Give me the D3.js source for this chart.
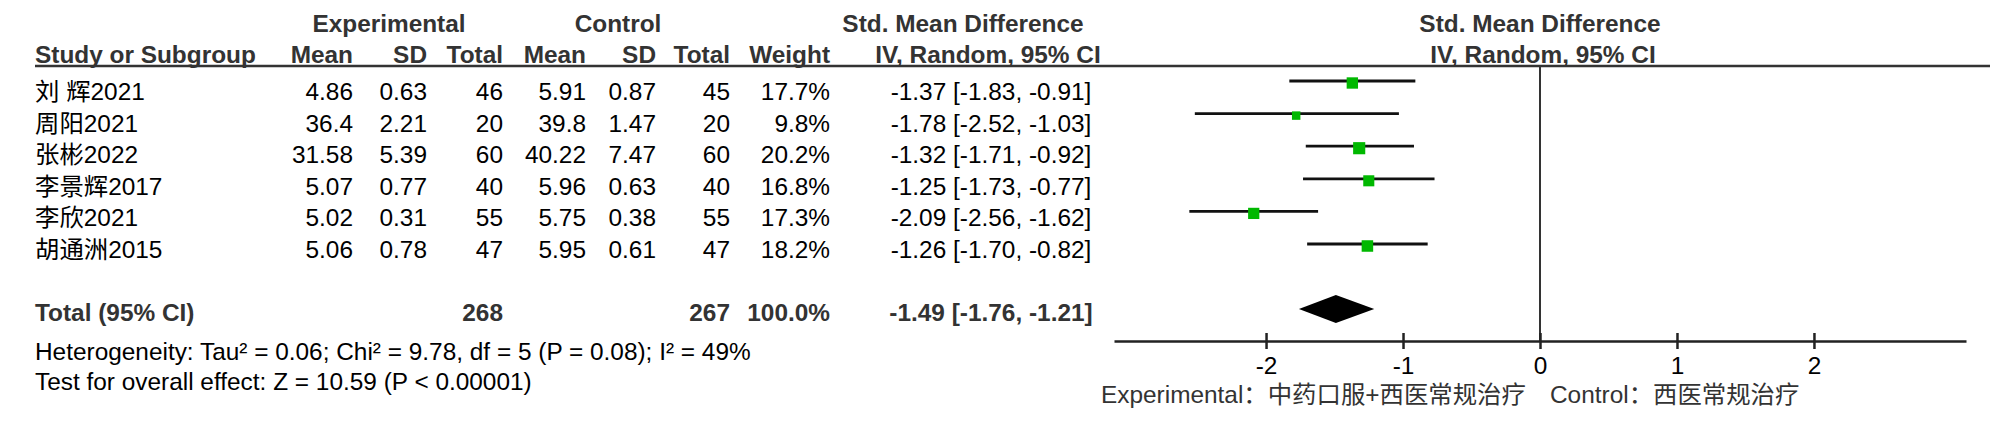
<!DOCTYPE html>
<html>
<head>
<meta charset="utf-8">
<script src="https://cdn.jsdelivr.net/npm/d3@7"></script>
<style>
  body { margin: 0; background: #fff; }
  text { font-family: "Liberation Sans", Arial, "Noto Sans CJK SC", sans-serif; font-size: 24.4px; }
  .hd { font-weight: bold; fill: #333; }
  .cell { fill: #000; }
</style>
</head>
<body>
<div id="chart"></div>
<script>
// study data
var studies = ["刘 辉2021", "周阳2021", "张彬2022", "李景辉2017", "李欣2021", "胡通洲2015"];
var expMean = [4.86, 36.4, 31.58, 5.07, 5.02, 5.06];
var expSD = [0.63, 2.21, 5.39, 0.77, 0.31, 0.78];
var expTotal = [46, 20, 60, 40, 55, 47];
var ctrlMean = [5.91, 39.8, 40.22, 5.96, 5.75, 5.95];
var ctrlSD = [0.87, 1.47, 7.47, 0.63, 0.38, 0.61];
var ctrlTotal = [45, 20, 60, 40, 55, 47];
var weight = [17.7, 9.8, 20.2, 16.8, 17.3, 18.2];
var smd = [-1.37, -1.78, -1.32, -1.25, -2.09, -1.26];
var ciLow = [-1.83, -2.52, -1.71, -1.73, -2.56, -1.70];
var ciHigh = [-0.91, -1.03, -0.92, -0.77, -1.62, -0.82];

// pooled result
var pooled = { est: -1.49, low: -1.76, high: -1.21, expN: 268, ctrlN: 267, weight: 100.0 };
var tickValues = [-2, -1, 0, 1, 2];

var svgWidth = 2000;
var svgHeight = 432;

var svg = d3.select("#chart")
  .append("svg")
  .attr("width", svgWidth)
  .attr("height", svgHeight);

var rows = d3.range(studies.length);

// text rows (baselines) and plot rows (line centres)
var yText = d3.scalePoint().domain(rows).range([100, 258]);
var yPlot = d3.scalePoint().domain(rows).range([81, 244]);

var x = d3.scaleLinear().domain([-3.11, 3.11]).range([1114, 1966]);

var headY1 = 32, headY2 = 63, lineY = 66;
var totalY = 321, axisY = 341, diamondY = 309;

function fmtCI(e, l, h) {
  return e.toFixed(2) + " [" + l.toFixed(2) + ", " + h.toFixed(2) + "]";
}

// header row 1
var head1 = [
  { t: "Experimental", x: 389, a: "middle" },
  { t: "Control", x: 618, a: "middle" },
  { t: "Std. Mean Difference", x: 963, a: "middle" },
  { t: "Std. Mean Difference", x: x(0), a: "middle" }
];
svg.selectAll(".h1").data(head1).enter().append("text")
  .attr("class", "hd")
  .attr("x", d => d.x).attr("y", headY1)
  .attr("text-anchor", d => d.a)
  .text(d => d.t);

// header row 2
var head2 = [
  { t: "Study or Subgroup", x: 35, a: "start" },
  { t: "Mean", x: 353, a: "end" },
  { t: "SD", x: 427, a: "end" },
  { t: "Total", x: 503, a: "end" },
  { t: "Mean", x: 586, a: "end" },
  { t: "SD", x: 656, a: "end" },
  { t: "Total", x: 730, a: "end" },
  { t: "Weight", x: 830, a: "end" },
  { t: "IV, Random, 95% CI", x: 988, a: "middle" },
  { t: "IV, Random, 95% CI", x: x(0) + 3, a: "middle" }
];
svg.selectAll(".h2").data(head2).enter().append("text")
  .attr("class", "hd")
  .attr("x", d => d.x).attr("y", headY2)
  .attr("text-anchor", d => d.a)
  .text(d => d.t);

svg.append("line")
  .attr("x1", 35).attr("x2", 1990)
  .attr("y1", lineY).attr("y2", lineY)
  .attr("stroke", "#333").attr("stroke-width", 2.5);

// table columns
var cols = [
  { x: 35, a: "start", v: i => studies[i] },
  { x: 353, a: "end", v: i => expMean[i] },
  { x: 427, a: "end", v: i => expSD[i] },
  { x: 503, a: "end", v: i => expTotal[i] },
  { x: 586, a: "end", v: i => ctrlMean[i] },
  { x: 656, a: "end", v: i => ctrlSD[i] },
  { x: 730, a: "end", v: i => ctrlTotal[i] },
  { x: 830, a: "end", v: i => weight[i].toFixed(1) + "%" },
  { x: 991, a: "middle", v: i => fmtCI(smd[i], ciLow[i], ciHigh[i]) }
];

cols.forEach(function (c) {
  svg.append("g").selectAll("text")
    .data(rows).enter().append("text")
    .attr("class", "cell")
    .attr("x", c.x)
    .attr("y", i => yText(i))
    .attr("text-anchor", c.a)
    .text(c.v);
});

// total row
var totalCells = [
  { t: "Total (95% CI)", x: 35, a: "start" },
  { t: pooled.expN, x: 503, a: "end" },
  { t: pooled.ctrlN, x: 730, a: "end" },
  { t: pooled.weight.toFixed(1) + "%", x: 830, a: "end" },
  { t: fmtCI(pooled.est, pooled.low, pooled.high), x: 991, a: "middle" }
];
svg.selectAll(".tot").data(totalCells).enter().append("text")
  .attr("class", "hd")
  .attr("x", d => d.x).attr("y", totalY)
  .attr("text-anchor", d => d.a)
  .text(d => d.t);

svg.append("text").attr("class", "cell").attr("x", 35).attr("y", 360)
  .text("Heterogeneity: Tau² = 0.06; Chi² = 9.78, df = 5 (P = 0.08); I² = 49%");
svg.append("text").attr("class", "cell").attr("x", 35).attr("y", 390)
  .text("Test for overall effect: Z = 10.59 (P < 0.00001)");

// forest plot
svg.append("line")
  .attr("x1", x(0)).attr("x2", x(0))
  .attr("y1", lineY).attr("y2", axisY)
  .attr("stroke", "#333").attr("stroke-width", 2);

svg.append("g").selectAll("line")
  .data(rows).enter().append("line")
  .attr("x1", i => x(ciLow[i]))
  .attr("x2", i => x(ciHigh[i]))
  .attr("y1", i => yPlot(i))
  .attr("y2", i => yPlot(i))
  .attr("stroke", "#111")
  .attr("stroke-width", 2.8);

// square side grows with sqrt of weight
var side = d => 2.7 * Math.sqrt(d);
svg.append("g").selectAll("rect")
  .data(rows).enter().append("rect")
  .attr("x", i => x(smd[i]) - side(weight[i]) / 2)
  .attr("y", i => yPlot(i) + 2 - side(weight[i]) / 2)
  .attr("width", i => side(weight[i]))
  .attr("height", i => side(weight[i]))
  .attr("fill", "#00b800");

svg.append("path")
  .attr("d", d3.line()([
    [x(pooled.low), diamondY],
    [x(pooled.est), diamondY - 14],
    [x(pooled.high), diamondY],
    [x(pooled.est), diamondY + 14]
  ]) + "Z")
  .attr("fill", "#000");

var xAxis = svg.append("g")
  .attr("transform", `translate(0, ${axisY})`)
  .call(d3.axisBottom(x).tickValues(tickValues).tickSizeOuter(0).tickFormat(d3.format("d")));

xAxis.select(".domain").attr("stroke", "#222").attr("stroke-width", 2.5);
xAxis.selectAll(".tick line").attr("y1", -8).attr("y2", 8)
  .attr("stroke", "#222").attr("stroke-width", 2.5);
xAxis.selectAll(".tick text")
  .attr("y", 33).attr("dy", 0)
  .attr("fill", "#000")
  .style("font-size", "24.4px")
  .style("font-family", "\"Liberation Sans\", Arial, sans-serif")
  .text(d => d < 0 ? "-" + Math.abs(d) : d);

// footer legend
svg.append("text").attr("x", 1101).attr("y", 403).attr("fill", "#333")
  .text("Experimental：中药口服+西医常规治疗");
svg.append("text").attr("x", 1550).attr("y", 403).attr("fill", "#333")
  .text("Control：西医常规治疗");
</script>
</body>
</html>
